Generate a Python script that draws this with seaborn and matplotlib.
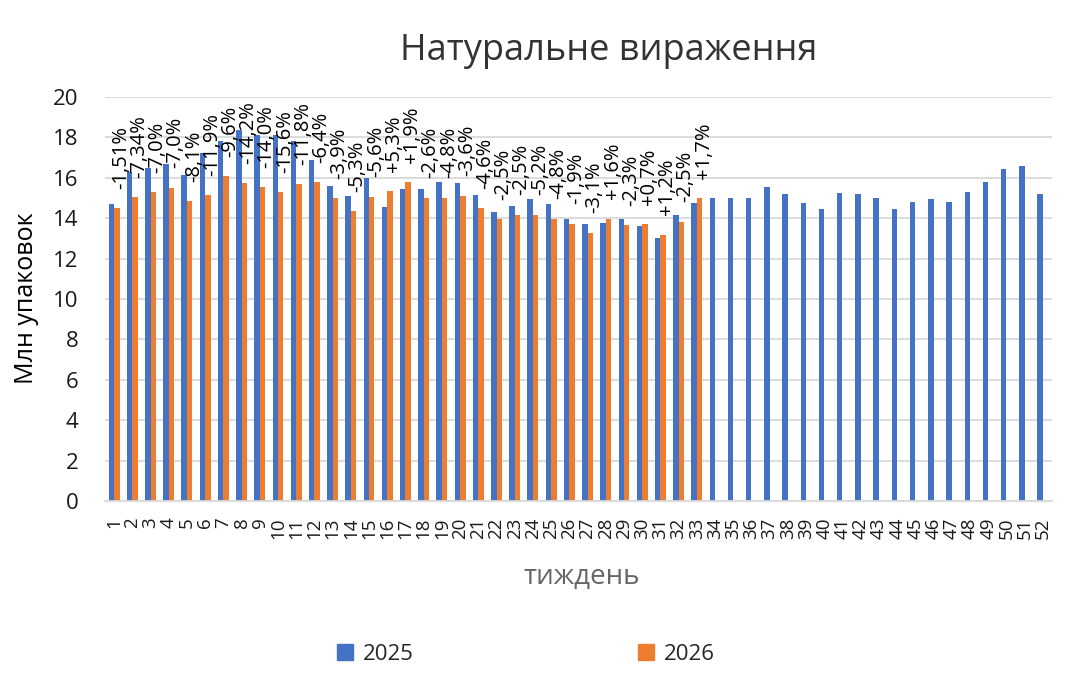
import pandas as pd
import seaborn as sns
import matplotlib.pyplot as plt

# weekly packs, millions
weeks = list(range(1, 53))
vals_2025 = [14.68, 16.28, 16.46, 16.69, 16.12, 17.21, 17.80, 18.38, 18.10, 18.12,
             17.80, 16.86, 15.60, 15.12, 15.97, 14.53, 15.45, 15.42, 15.79, 15.72,
             15.16, 14.30, 14.58, 14.96, 14.69, 13.98, 13.72, 13.74, 13.98, 13.59,
             13.04, 14.18, 14.77, 14.99, 14.99, 14.99, 15.54, 15.19, 14.73, 14.43,
             15.26, 15.19, 15.02, 14.43, 14.78, 14.96, 14.81, 15.32, 15.80, 16.43,
             16.56, 15.22]
vals_2026 = [14.48, 15.04, 15.29, 15.50, 14.83, 15.14, 16.08, 15.74, 15.54, 15.29,
             15.67, 15.79, 14.99, 14.35, 15.06, 15.34, 15.77, 15.02, 15.02, 15.12,
             14.48, 13.95, 14.17, 14.17, 13.98, 13.72, 13.29, 13.98, 13.65, 13.69,
             13.19, 13.82, 14.99]
pct_labels = ['-1,51%', '-7,34%', '-7,0%', '-7,0%', '-8,1%', '-11,9%', '-9,6%',
              '-14,2%', '-14,0%', '-15,6%', '-11,8%', '-6,4%', '-3,9%', '-5,3%',
              '-5,6%', '+5,3%', '+1,9%', '-2,6%', '-4,8%', '-3,6%', '-4,6%',
              '-2,5%', '-2,5%', '-5,2%', '-4,8%', '-1,9%', '-3,1%', '+1,6%',
              '-2,3%', '+0,7%', '+1,2%', '-2,5%', '+1,7%']

df = pd.concat([
    pd.DataFrame({'week': weeks, 'value': vals_2025, 'year': '2025'}),
    pd.DataFrame({'week': weeks[:len(vals_2026)], 'value': vals_2026, 'year': '2026'}),
])

sns.set_style('white')
plt.rcParams['font.family'] = ['Open Sans', 'DejaVu Sans']

fig = plt.figure(figsize=(10.8, 6.81), dpi=100)
ax = fig.add_axes([0.0972, 0.2643, 0.8768, 0.5933])

sns.barplot(data=df, x='week', y='value', hue='year', order=weeks,
            hue_order=['2025', '2026'], palette=['#4472C4', '#ED7D31'],
            saturation=1, width=0.6, linewidth=0, legend=False, ax=ax)

ax.set_ylim(0, 20)
ax.set_yticks(range(0, 21, 2))
ax.grid(axis='y', color='#d9d9d9', linewidth=1.3)
ax.set_axisbelow(True)
sns.despine(ax=ax, left=True, top=True, right=True)
ax.spines['bottom'].set_color('#d9d9d9')
ax.spines['bottom'].set_linewidth(1.3)
ax.set_xlim(-0.5, len(weeks) - 0.5)
ax.tick_params(axis='y', length=0, pad=19, labelsize=16, labelcolor='#1a1a1a')
ax.tick_params(axis='x', length=0, pad=12, labelsize=13.5, labelcolor='#1a1a1a',
               labelrotation=90)
ax.set_xlabel('')
ax.set_ylabel('')

# % change labels above the 2026 bars
for bar, txt in zip(ax.containers[1], pct_labels):
    ax.annotate(txt, (bar.get_x() + bar.get_width() / 2, bar.get_height()),
                xytext=(3, 14), textcoords='offset points', rotation=90,
                ha='center', va='bottom', fontsize=14.5, color='#000000')

fig.text(609 / 1080, 1 - 51 / 681, 'Натуральне вираження', ha='center', va='center',
         fontsize=26, color='#333333')
fig.text(27 / 1080, 1 - 298 / 681, 'Млн упаковок', rotation=90, ha='center',
         va='center', fontsize=18, color='#000000')
fig.text(582 / 1080, 1 - 577 / 681, 'тиждень', ha='center', va='center',
         fontsize=20, color='#666666')

handles = [plt.Rectangle((0, 0), 1, 1, color=c) for c in ['#4472C4', '#ED7D31']]
fig.legend(handles, ['2025', '2026'], loc='center', bbox_to_anchor=(526 / 1080, 1 - 654 / 681),
           ncol=2, frameon=False, fontsize=16, handlelength=0.7, handleheight=0.7,
           handletextpad=0.45, columnspacing=10.1)

fig.savefig('out.png', dpi=100)
